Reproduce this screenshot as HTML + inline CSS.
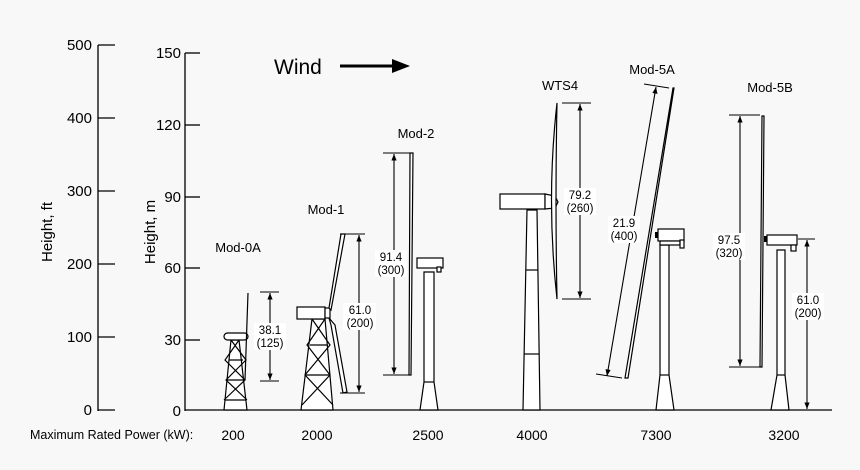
<!DOCTYPE html>
<html><head><meta charset="utf-8"><style>html,body{margin:0;padding:0;background:#f8f8f8}svg{display:block}text{font-family:"Liberation Sans",sans-serif;fill:#000}</style></head><body>
<svg width="860" height="470" viewBox="0 0 860 470" xmlns="http://www.w3.org/2000/svg">
<defs><marker id="a" viewBox="0 0 10 10" refX="10" refY="5" markerWidth="6" markerHeight="8" orient="auto-start-reverse"><path d="M0,1 L10,5 L0,9 z" fill="#000"/></marker></defs>
<rect width="860" height="470" fill="#f8f8f8"/>
<g stroke="#000" stroke-width="1.3" fill="none">
<line x1="98" y1="45" x2="98" y2="411"/>
<line x1="98" y1="45" x2="115" y2="45"/><line x1="98" y1="118" x2="115" y2="118"/><line x1="98" y1="191" x2="115" y2="191"/><line x1="98" y1="264" x2="115" y2="264"/><line x1="98" y1="337" x2="115" y2="337"/><line x1="98" y1="410" x2="115" y2="410"/>
<line x1="185" y1="53" x2="185" y2="411"/>
<line x1="185" y1="53" x2="200" y2="53"/><line x1="185" y1="125" x2="200" y2="125"/><line x1="185" y1="197" x2="200" y2="197"/><line x1="185" y1="268" x2="200" y2="268"/><line x1="185" y1="340" x2="200" y2="340"/>
<line x1="185" y1="410" x2="832" y2="410"/>
</g>
<g font-size="15" text-anchor="end">
<text x="92" y="50">500</text><text x="92" y="123">400</text><text x="92" y="196">300</text><text x="92" y="269">200</text><text x="92" y="342">100</text><text x="92" y="415">0</text>
<text x="181" y="58">150</text><text x="181" y="130">120</text><text x="181" y="202">90</text><text x="181" y="273">60</text><text x="181" y="345">30</text><text x="181" y="416">0</text>
</g>
<text font-size="15" transform="translate(52,232) rotate(-90)" text-anchor="middle">Height, ft</text>
<text font-size="15" transform="translate(155,232) rotate(-90)" text-anchor="middle">Height, m</text>
<text x="274" y="74" font-size="21">Wind</text>
<line x1="340" y1="66" x2="396" y2="66" stroke="#000" stroke-width="3"/>
<path d="M392,59 L410,66 L392,73 z" fill="#000"/>
<g font-size="13" text-anchor="middle">
<text x="238" y="252">Mod-0A</text><text x="326" y="214">Mod-1</text><text x="416" y="138">Mod-2</text><text x="560" y="90">WTS4</text><text x="652" y="74">Mod-5A</text><text x="770" y="92">Mod-5B</text>
</g>
<text x="30" y="439" font-size="12.5">Maximum Rated Power (kW):</text>
<g font-size="14" text-anchor="middle">
<text x="233" y="440">200</text><text x="317" y="440">2000</text><text x="428" y="440">2500</text><text x="532" y="440">4000</text><text x="656" y="440">7300</text><text x="784" y="440">3200</text>
</g>
<g stroke="#000" stroke-width="1.2" fill="#fff">
<!-- Mod-0A -->
<path d="M231,340 L239,340 L247,410 L224,410 z"/>
<path d="M231,340 L246,360 L226,380 L247,400 M239,340 L225,360 L245,380 L224,400 M229,360 L243,360 M227,380 L245,380 M225,400 L246,400" fill="none"/>
<rect x="224" y="333" width="24" height="7" rx="3.5"/>
<path d="M248,293 L245,380" fill="none"/>
<!-- Mod-1 -->
<path d="M312,319 L325,319 L333,410 L301,410 z"/>
<path d="M312,319 L330,345 L305,375 L333,405 M325,319 L307,345 L330,375 L302,405 M310,345 L327,345 M306,375 L330,375" fill="none"/>
<rect x="297" y="307" width="28" height="12"/>
<rect x="325" y="308" width="5" height="10"/>
<path d="M329,308 L341,234 L345,234 L331,310 z"/>
<path d="M329,318 L335,325 L347,392 L343,393 L331,325 z"/>
<!-- Mod-2 -->
<path d="M424,272 L434,272 L434,382 L438,410 L420,410 L424,382 z"/>
<line x1="424" y1="382" x2="434" y2="382"/>
<rect x="417" y="258" width="26" height="10"/>
<rect x="437" y="267" width="4" height="5"/>
<path d="M410,153 L413,153 L411,375 L409,375 z"/>
<!-- WTS4 -->
<path d="M527,210 L537,210 L540,410 L523,410 z"/>
<line x1="526" y1="270" x2="538" y2="270"/><line x1="524" y1="354" x2="539" y2="354"/>
<rect x="500" y="194" width="45" height="15"/>
<path d="M545,194 L555,196 L558,202 L555,208 L545,209 z"/>
<path d="M557,103 Q546,200 557,299 Q555,200 557,103 z"/>
<!-- Mod-5A -->
<path d="M660,245 L669,245 L669,375 L674,410 L656,410 L660,375 z"/>
<line x1="660" y1="375" x2="669" y2="375"/>
<rect x="658" y="229" width="26" height="12"/>
<rect x="660" y="241" width="20" height="4"/>
<rect x="680" y="240" width="4" height="8"/>
<path d="M673,88 L625,378 L628,378 L674,88 z"/>
<!-- Mod-5B -->
<path d="M777,250 L785,250 L785,375 L789,410 L771,410 L777,375 z"/>
<line x1="777" y1="375" x2="785" y2="375"/>
<rect x="767" y="235" width="30" height="10"/>
<rect x="791" y="245" width="5" height="6"/>
<path d="M762,116 L764,116 L762,367 L760,367 z"/>
</g>
<rect x="655" y="232" width="3" height="6" fill="#000"/>
<rect x="764" y="236" width="3" height="6" fill="#000"/>
<!-- dims -->
<g stroke="#000" stroke-width="1.1" fill="none">
<line x1="260" y1="292" x2="279" y2="292"/><line x1="260" y1="381" x2="279" y2="381"/>
<line x1="270" y1="293" x2="270" y2="380" marker-start="url(#a)" marker-end="url(#a)"/>
<line x1="340" y1="234" x2="365" y2="234"/><line x1="340" y1="393" x2="365" y2="393"/>
<line x1="359" y1="235" x2="359" y2="392" marker-start="url(#a)" marker-end="url(#a)"/>
<line x1="383" y1="153" x2="410" y2="153"/><line x1="383" y1="375" x2="410" y2="375"/>
<line x1="394" y1="154" x2="394" y2="374" marker-start="url(#a)" marker-end="url(#a)"/>
<line x1="562" y1="103" x2="591" y2="103"/><line x1="562" y1="299" x2="591" y2="299"/>
<line x1="580" y1="104" x2="580" y2="298" marker-start="url(#a)" marker-end="url(#a)"/>
<line x1="644" y1="84" x2="669" y2="88"/><line x1="596" y1="374" x2="622" y2="378"/>
<line x1="656" y1="87" x2="607" y2="376" marker-start="url(#a)" marker-end="url(#a)"/>
<line x1="729" y1="115" x2="760" y2="115"/><line x1="729" y1="367" x2="760" y2="367"/>
<line x1="740" y1="116" x2="740" y2="366" marker-start="url(#a)" marker-end="url(#a)"/>
<line x1="798" y1="239" x2="815" y2="239"/>
<line x1="807" y1="240" x2="807" y2="409" marker-start="url(#a)" marker-end="url(#a)"/>
</g>
<g font-size="11.5" text-anchor="middle">
<rect x="254" y="323" width="32" height="27" fill="#fff"/><text x="270" y="334">38.1</text><text x="270" y="347">(125)</text>
<rect x="343" y="303" width="33" height="27" fill="#fff"/><text x="360" y="314">61.0</text><text x="360" y="327">(200)</text>
<rect x="375" y="250" width="32" height="27" fill="#fff"/><text x="391" y="261">91.4</text><text x="391" y="274">(300)</text>
<rect x="564" y="188" width="32" height="27" fill="#fff"/><text x="580" y="199">79.2</text><text x="580" y="212">(260)</text>
<rect x="608" y="216" width="32" height="27" fill="#fff"/><text x="624" y="227">21.9</text><text x="624" y="240">(400)</text>
<rect x="713" y="233" width="32" height="27" fill="#fff"/><text x="729" y="244">97.5</text><text x="729" y="257">(320)</text>
<rect x="792" y="293" width="32" height="27" fill="#fff"/><text x="808" y="304">61.0</text><text x="808" y="317">(200)</text>
</g>
</svg>
</body></html>
